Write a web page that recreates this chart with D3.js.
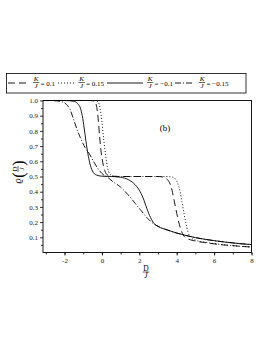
<!DOCTYPE html>
<html>
<head>
<meta charset="utf-8">
<script src="https://cdn.jsdelivr.net/npm/d3@7"></script>
<style>
  body { margin: 0; background: #fff; }
  svg { font-family: "Liberation Serif", "Times New Roman", serif; }
</style>
</head>
<body>
<svg id="chart" width="272" height="352"></svg>
<script>
// legend values of K/J, one per curve
var kLabels = ["0.1", "0.15", "\u22120.1", "\u22120.15"];
var dashes = ["7,4", "1,2", null, "6,2,1,2"];

// curves: [D/J, rho]
var curveK010 = [[-3.15,1],[-0.6,1],[-0.4,0.995],[-0.3,0.97],[-0.2,0.88],[-0.12,0.76],[-0.05,0.67],[0.05,0.59],[0.15,0.54],[0.3,0.51],[0.5,0.502],[1,0.5],[3,0.5],[3.3,0.495],[3.5,0.48],[3.65,0.45],[3.75,0.41],[3.85,0.35],[3.95,0.29],[4.05,0.23],[4.2,0.16],[4.35,0.115],[4.5,0.095],[4.75,0.083],[5,0.075],[5.5,0.065],[6,0.057],[6.5,0.05],[7,0.045],[7.5,0.04],[8,0.036]];
var curveK015 = [[-3.15,1],[-0.4,1],[-0.2,0.99],[-0.1,0.95],[0,0.86],[0.1,0.74],[0.2,0.64],[0.3,0.56],[0.4,0.52],[0.6,0.503],[1,0.5],[3.5,0.5],[3.8,0.495],[3.95,0.48],[4.1,0.44],[4.2,0.39],[4.3,0.32],[4.4,0.25],[4.5,0.19],[4.6,0.135],[4.75,0.1],[5,0.082],[5.5,0.068],[6,0.058],[6.5,0.051],[7,0.045],[7.5,0.04],[8,0.036]];
var curveKm010 = [[-3.15,1],[-2,1],[-1.5,0.995],[-1.3,0.98],[-1.15,0.95],[-1.05,0.9],[-0.95,0.82],[-0.85,0.73],[-0.75,0.65],[-0.65,0.59],[-0.5,0.535],[-0.3,0.51],[0,0.502],[0.5,0.5],[1,0.495],[1.4,0.48],[1.7,0.455],[2,0.41],[2.2,0.36],[2.4,0.29],[2.6,0.23],[2.8,0.19],[3,0.172],[3.5,0.148],[4,0.128],[4.5,0.112],[5,0.098],[5.5,0.087],[6,0.078],[6.5,0.07],[7,0.063],[7.5,0.057],[8,0.052]];
var curveKm015 = [[-3.15,1],[-2.5,0.998],[-2.1,0.99],[-1.9,0.975],[-1.7,0.94],[-1.5,0.87],[-1.3,0.8],[-1.1,0.74],[-0.9,0.69],[-0.7,0.655],[-0.45,0.6],[-0.2,0.55],[0,0.52],[0.3,0.495],[0.6,0.465],[1,0.43],[1.4,0.38],[1.8,0.32],[2.1,0.275],[2.4,0.23],[2.7,0.195],[3,0.172],[3.5,0.148],[4,0.128],[4.5,0.112],[5,0.098],[5.5,0.087],[6,0.078],[6.5,0.07],[7,0.063],[7.5,0.057],[8,0.052]];
var curves = [curveK010, curveK015, curveKm010, curveKm015];

var xTicks = [-2, 0, 2, 4, 6, 8];
var yTicks = [0.1, 0.2, 0.3, 0.4, 0.5, 0.6, 0.7, 0.8, 0.9, 1.0];

var svg = d3.select("#chart");
var pLeft = 43, pRight = 251.5, pTop = 100.5, pBottom = 252.5;

var x = d3.scaleLinear().domain([-3.15, 8]).range([pLeft, pRight]);
var y = d3.scaleLinear().domain([0, 1]).range([pBottom, pTop]);

svg.append("defs").append("clipPath").attr("id", "clip")
  .append("rect").attr("x", pLeft).attr("y", pTop - 1)
  .attr("width", pRight - pLeft).attr("height", pBottom - pTop + 1);

// axes with minor ticks
var xMinor = d3.axisBottom(x).tickValues(d3.range(-3, 8.01, 1)).tickSize(2).tickFormat("");
svg.append("g").attr("transform", "translate(0," + pBottom + ")").call(xMinor);
var xAxis = d3.axisBottom(x).tickValues(xTicks).tickSize(3).tickPadding(3)
  .tickFormat(function (d) { return d < 0 ? "-" + (-d) : d; });
svg.append("g").attr("transform", "translate(0," + pBottom + ")").call(xAxis);

var yMinor = d3.axisLeft(y).tickValues(d3.range(0.05, 1.0, 0.1)).tickSize(2).tickFormat("");
svg.append("g").attr("transform", "translate(" + pLeft + ",0)").call(yMinor);
var yAxis = d3.axisLeft(y).tickValues(yTicks).tickSize(3).tickPadding(2).tickFormat(d3.format(".1f"));
svg.append("g").attr("transform", "translate(" + pLeft + ",0)").call(yAxis);

svg.selectAll(".domain").remove();
svg.selectAll(".tick text").attr("font-family", "Liberation Serif").attr("font-size", 7).attr("fill", "#222");
svg.selectAll(".tick line").attr("stroke", "#000").attr("stroke-width", 0.8);

svg.append("rect").attr("x", pLeft).attr("y", pTop)
  .attr("width", pRight - pLeft).attr("height", pBottom - pTop)
  .attr("fill", "none").attr("stroke", "#000").attr("stroke-width", 0.9);

// curves
var line = d3.line()
  .x(function (d) { return x(d[0]); })
  .y(function (d) { return y(d[1]); })
  .curve(d3.curveMonotoneX);

svg.append("g").attr("clip-path", "url(#clip)")
  .selectAll("path.curve")
  .data(curves)
  .enter()
  .append("path")
  .attr("class", "curve")
  .attr("d", line)
  .attr("fill", "none")
  .attr("stroke", "#000")
  .attr("stroke-width", 0.9)
  .attr("stroke-dasharray", function (d, i) { return dashes[i]; });

svg.append("text").attr("x", 165).attr("y", 131).attr("text-anchor", "middle")
  .attr("font-size", 9).attr("fill", "#000").text("(b)");

// small fraction helper
function fraction(g, cx, cy, num, den, size, italicNum) {
  g.append("text").attr("x", cx).attr("y", cy - 1.5).attr("text-anchor", "middle").attr("fill", "#000")
    .attr("font-size", size).attr("font-style", italicNum ? "italic" : "normal").text(num);
  g.append("line").attr("x1", cx - size * 0.45).attr("x2", cx + size * 0.45)
    .attr("y1", cy).attr("y2", cy).attr("stroke", "#000").attr("stroke-width", 0.6);
  g.append("text").attr("x", cx).attr("y", cy + size * 0.85).attr("text-anchor", "middle").attr("fill", "#000")
    .attr("font-size", size).attr("font-style", "italic").text(den);
}

// x label
fraction(svg, 146, 272, "D", "J", 7.5, false);

// y label, rotated
var yl = svg.append("g").attr("transform", "translate(21,172) rotate(-90)");
yl.append("text").attr("x", -9).attr("y", 0).attr("font-size", 10).attr("font-style", "italic")
  .attr("text-anchor", "middle").attr("fill", "#000").text("\u03f1");
yl.append("text").attr("x", -3).attr("y", 3).attr("font-size", 16).attr("text-anchor", "middle")
  .attr("fill", "#000").text("(");
fraction(yl, 3, -3, "D", "J", 7, false);
yl.append("text").attr("x", 9).attr("y", 3).attr("font-size", 16).attr("text-anchor", "middle")
  .attr("fill", "#000").text(")");

// legend
var lg = svg.append("g");
lg.append("rect").attr("x", 6.5).attr("y", 73.5).attr("width", 239.5).attr("height", 19.5)
  .attr("fill", "none").attr("stroke", "#000").attr("stroke-width", 0.8);
var legLine = [[8, 29], [58, 76], [107, 143], [175, 194]];
var legFrac = [36, 81.5, 150, 202];
kLabels.forEach(function (k, i) {
  lg.append("line").attr("x1", legLine[i][0]).attr("x2", legLine[i][1])
    .attr("y1", 83).attr("y2", 83).attr("stroke", "#000").attr("stroke-width", 0.9)
    .attr("stroke-dasharray", dashes[i]);
  fraction(lg, legFrac[i], 82.5, "K", "J", 7, true);
  lg.append("text").attr("x", legFrac[i] + 4.5).attr("y", 85.5).attr("font-size", 7)
    .attr("fill", "#000").text("= " + k);
});
</script>
</body>
</html>
